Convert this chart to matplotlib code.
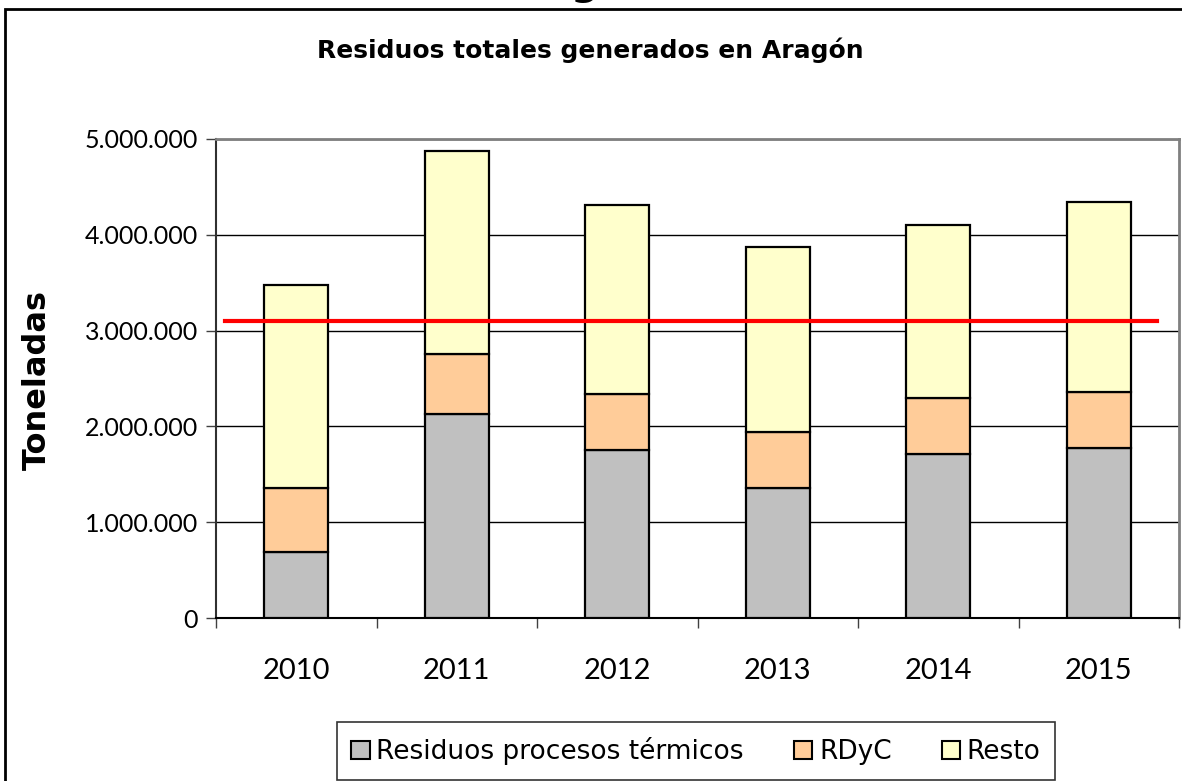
import numpy as np
import matplotlib
matplotlib.use("Agg")
import matplotlib.pyplot as plt
from matplotlib.patches import Rectangle, Patch
from matplotlib.ticker import FuncFormatter, FixedLocator

plt.rcParams['font.family'] = ['Lato', 'DejaVu Sans']

years = ['2010', '2011', '2012', '2013', '2014', '2015']
termicos = [690000, 2130000, 1754000, 1357000, 1712000, 1775000]
rdyc = [667000, 626000, 584000, 585000, 584000, 584000]
resto = [2119000, 2119000, 1973000, 1931000, 1806000, 1983000]
limite = 3100000

fig = plt.figure(figsize=(11.82, 7.81), dpi=100)
ax = fig.add_axes([216/1182, 1 - 618/781, (1179 - 216)/1182, (618 - 139)/781])

x = np.arange(len(years))
w = 0.4
t = np.array(termicos)
r = np.array(rdyc)
ax.bar(x, termicos, w, color='#C0C0C0', edgecolor='black', lw=1.6, zorder=3)
ax.bar(x, rdyc, w, bottom=t, color='#FFCC99', edgecolor='black', lw=1.6, zorder=3)
ax.bar(x, resto, w, bottom=t + r, color='#FFFFCC', edgecolor='black', lw=1.6, zorder=3)

ax.plot([-0.444, 5.363], [limite, limite], color='red', lw=3, zorder=4)

ax.set_xlim(-0.5, 5.5)
ax.set_ylim(0, 5000000)
ax.set_yticks(np.arange(0, 5000001, 1000000))
ax.yaxis.set_major_formatter(FuncFormatter(lambda v, p: f'{int(v):,}'.replace(',', '.')))
ax.grid(axis='y', color='black', lw=1, zorder=0)

ax.xaxis.set_major_locator(FixedLocator(np.arange(-0.5, 6, 1)))
ax.xaxis.set_minor_locator(FixedLocator(x))
ax.set_xticklabels([], minor=False)
ax.set_xticklabels(years, minor=True)
ax.tick_params(axis='x', which='major', length=7, width=1, color='#404040')
ax.tick_params(axis='x', which='minor', length=0, pad=29, labelsize=21)
ax.tick_params(axis='y', length=7, width=1, color='#404040', pad=6, labelsize=18)

for s in ['top', 'right']:
    ax.spines[s].set_color('#808080')
    ax.spines[s].set_linewidth(2)
ax.spines['left'].set_color('#303030')
ax.spines['left'].set_linewidth(1.5)
ax.spines['bottom'].set_color('black')
ax.spines['bottom'].set_linewidth(1.5)

fig.text(590/1182, 1 - 58/781, 'Residuos totales generados en Aragón',
         ha='center', va='baseline', fontsize=18, fontweight='bold',
         family=['DejaVu Sans'])
fig.text(37/1182, 1 - 380/781, 'Toneladas', rotation=90,
         ha='center', va='center', fontsize=23, fontweight='bold',
         family=['DejaVu Sans'])

# cut-off heading above the chart
fig.text(584/1182, 1 + 5/781, 'g', ha='center', va='baseline',
         fontsize=28, fontweight='bold', family=['DejaVu Sans'])

# outer chart frame
fig.patches.append(Rectangle((4.5/1182, -0.2), 1.5, 1.2 - 9/781,
                             transform=fig.transFigure, fill=False,
                             edgecolor='black', lw=2))

handles = [Patch(facecolor='#C0C0C0', edgecolor='black', lw=1.5, label='Residuos procesos térmicos'),
           Patch(facecolor='#FFCC99', edgecolor='black', lw=1.5, label='RDyC'),
           Patch(facecolor='#FFFFCC', edgecolor='black', lw=1.5, label='Resto')]
leg = fig.legend(handles=handles, loc='center', bbox_to_anchor=(696/1182, 1 - 751/781),
                 ncol=3, prop={'family': 'DejaVu Sans', 'size': 19}, frameon=True,
                 fancybox=False, edgecolor='black', borderaxespad=0,
                 handlelength=0.7, handleheight=0.7, handletextpad=0.25,
                 columnspacing=1.9, borderpad=0.55)
leg.get_frame().set_linewidth(1.2)

fig.savefig('out.png', dpi=100)
